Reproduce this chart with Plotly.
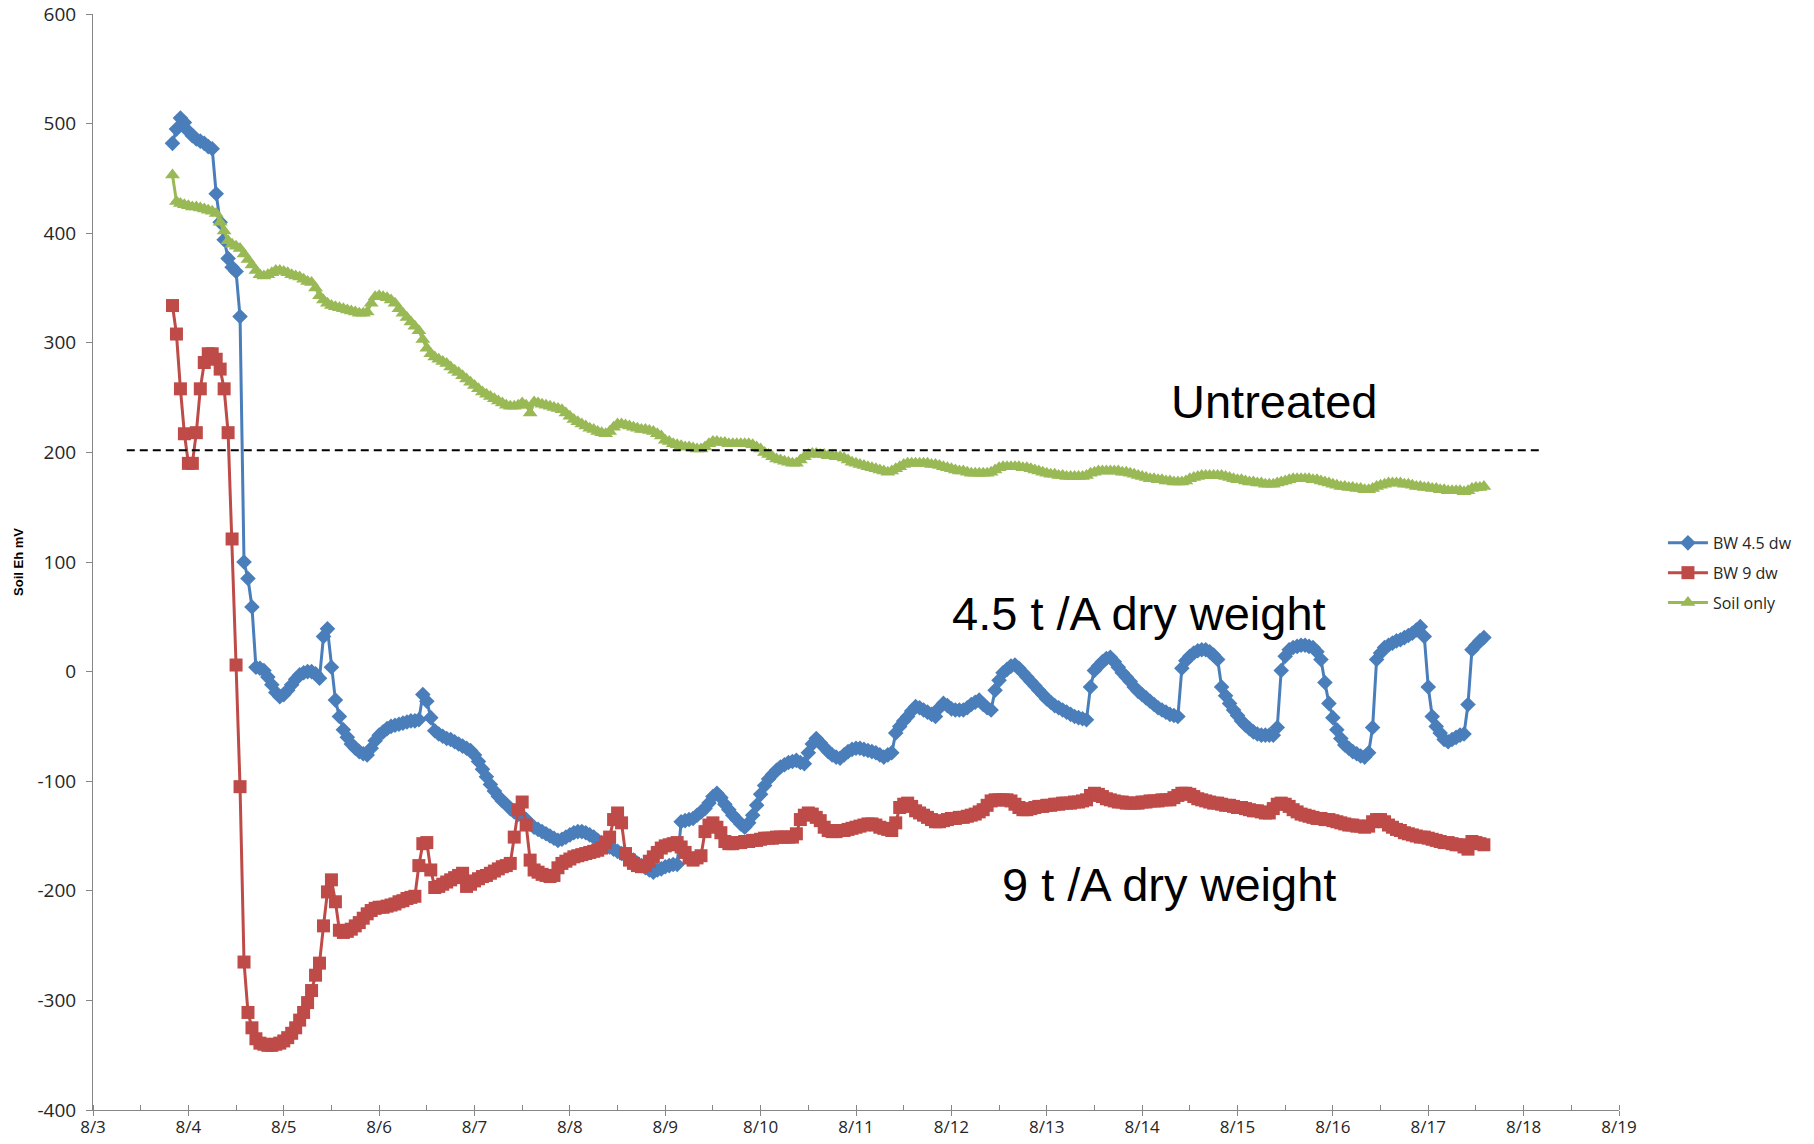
import pandas as pd
import plotly.graph_objects as go

# Soil Eh logger, one reading per hour starting 8/3 20:00
START = "2014-08-03 20:00"

# BW 4.5 dw  (one row per day)
bw45 = [
    482, 495, 505, 501,
    493, 489, 486, 484, 482, 479, 477, 436, 410, 394, 377, 369, 365, 324, 100, 85, 59, 4, 3, 1, -5, -12, -19, -23,
    -21, -17, -12, -7, -3, -1, 0, 0, -2, -6, 32, 39, 4, -26, -41, -53, -60, -66, -70, -73, -75, -76, -70, -63,
    -58, -55, -52, -50, -49, -48, -47, -46, -45, -45, -44, -21, -27, -42, -54, -57, -59, -61, -62, -64, -66, -68, -70, -72,
    -76, -82, -89, -96, -103, -109, -114, -118, -121, -125, -128, -130, -132, -135, -139, -142, -144, -146, -148, -150, -152, -154, -153, -151,
    -149, -147, -146, -146, -147, -149, -151, -154, -156, -158, -160, -162, -164, -166, -168, -170, -172, -175, -177, -179, -181, -183, -181, -180,
    -178, -177, -176, -176, -137, -136, -135, -134, -131, -128, -125, -120, -114, -111, -115, -121, -126, -131, -135, -139, -142, -138, -131, -122,
    -112, -104, -98, -94, -90, -87, -85, -83, -82, -81, -83, -84, -74, -66, -61, -65, -69, -73, -76, -78, -79, -76, -73, -71,
    -70, -70, -71, -72, -73, -74, -76, -78, -76, -74, -56, -50, -45, -41, -36, -32, -33, -35, -37, -39, -41, -33, -29, -31,
    -34, -35, -35, -35, -33, -30, -28, -26, -30, -33, -35, -17, -8, -1, 2, 5, 6, 3, -1, -5, -9, -13, -17, -21,
    -25, -28, -31, -33, -35, -37, -39, -41, -42, -43, -44, -14, 1, 5, 9, 12, 13, 9, 4, -1, -5, -9, -14, -18,
    -21, -24, -27, -30, -33, -35, -37, -39, -40, -41, 3, 10, 14, 17, 19, 20, 20, 18, 15, 11, -14, -22, -29, -35,
    -40, -45, -49, -52, -55, -57, -58, -58, -58, -58, -51, 1, 14, 20, 22, 23, 24, 24, 23, 22, 18, 11, -10, -29,
    -42, -53, -61, -67, -70, -73, -75, -77, -78, -74, -51, 11, 17, 22, 24, 26, 28, 29, 31, 33, 35, 38, 41, 32,
    -14, -41, -50, -56, -62, -64, -62, -60, -58, -57, -30, 20, 24, 28, 31,
]

# BW 9 dw
bw9 = [
    334, 308, 258, 217,
    190, 190, 218, 258, 282, 290, 290, 285, 276, 258, 218, 121, 6, -105, -265, -311, -325, -335, -339, -340, -341, -341, -340, -339,
    -337, -334, -330, -325, -318, -311, -302, -291, -277, -266, -232, -201, -190, -210, -236, -238, -237, -235, -232, -229, -225, -221, -218, -216,
    -215, -215, -214, -213, -212, -210, -209, -207, -206, -205, -177, -157, -156, -181, -197, -196, -194, -192, -190, -188, -186, -184, -196, -194,
    -191, -189, -187, -186, -184, -182, -180, -178, -177, -175, -151, -126, -119, -140, -172, -181, -183, -185, -186, -187, -186, -179, -175, -173,
    -171, -169, -168, -167, -166, -165, -164, -163, -161, -156, -151, -135, -129, -138, -166, -172, -175, -177, -178, -177, -173, -169, -165, -161,
    -159, -158, -157, -156, -160, -165, -170, -172, -170, -168, -146, -140, -138, -142, -147, -155, -157, -157, -156, -156, -155, -155, -154, -154,
    -153, -152, -152, -152, -151, -151, -151, -151, -151, -148, -135, -131, -129, -130, -133, -136, -142, -145, -146, -146, -145, -145, -144, -143,
    -142, -141, -140, -139, -139, -140, -142, -143, -144, -145, -138, -124, -121, -120, -123, -127, -129, -131, -133, -135, -137, -137, -136, -135,
    -134, -134, -133, -133, -132, -131, -130, -128, -126, -122, -118, -117, -117, -117, -117, -118, -121, -124, -126, -126, -125, -124, -123, -123,
    -122, -122, -121, -121, -120, -120, -120, -119, -119, -118, -117, -113, -111, -112, -114, -116, -117, -118, -119, -119, -120, -120, -120, -120,
    -119, -119, -118, -118, -118, -117, -117, -117, -115, -113, -111, -111, -112, -114, -116, -117, -118, -119, -120, -120, -121, -122, -122, -123,
    -124, -124, -125, -126, -127, -127, -128, -129, -129, -125, -121, -120, -121, -123, -126, -128, -130, -131, -132, -133, -134, -134, -135, -135,
    -136, -137, -138, -139, -140, -140, -141, -141, -142, -141, -137, -135, -135, -137, -140, -142, -144, -145, -147, -148, -149, -150, -151, -151,
    -152, -153, -154, -155, -156, -156, -157, -158, -158, -160, -162, -155, -156, -157, -158,
]

# Soil only
soil = [
    453, 429, 427, 426,
    425, 424, 424, 423, 422, 421, 420, 418, 410, 402, 393, 390, 388, 386, 381, 376, 371, 366, 362, 361, 362, 364, 366, 366,
    365, 364, 362, 361, 360, 358, 356, 355, 350, 343, 339, 336, 334, 333, 332, 331, 330, 329, 328, 327, 327, 328, 336, 342,
    343, 342, 341, 339, 336, 331, 327, 323, 319, 315, 311, 303, 295, 290, 287, 285, 283, 281, 278, 275, 273, 270, 267, 264,
    261, 258, 255, 253, 251, 249, 247, 245, 243, 242, 242, 243, 245, 243, 236, 246, 245, 244, 243, 242, 241, 240, 239, 236,
    233, 230, 228, 226, 224, 222, 221, 219, 218, 217, 219, 223, 226, 226, 225, 224, 223, 222, 221, 221, 220, 219, 217, 215,
    211, 210, 208, 207, 206, 205, 205, 204, 203, 203, 205, 208, 210, 210, 209, 209, 208, 208, 208, 208, 208, 208, 207, 205,
    203, 200, 198, 196, 194, 193, 192, 191, 190, 190, 193, 196, 198, 199, 199, 198, 198, 197, 197, 196, 196, 195, 193, 191,
    190, 189, 188, 187, 186, 185, 184, 183, 182, 183, 185, 187, 189, 190, 190, 190, 190, 190, 190, 189, 189, 188, 187, 186,
    185, 184, 183, 183, 182, 181, 181, 181, 181, 181, 182, 184, 186, 187, 187, 187, 187, 187, 186, 186, 185, 184, 183, 182,
    181, 180, 180, 179, 179, 178, 178, 178, 178, 178, 179, 181, 182, 183, 183, 183, 183, 183, 183, 182, 182, 181, 180, 179,
    178, 177, 176, 176, 175, 175, 174, 174, 173, 173, 173, 174, 176, 177, 178, 179, 179, 179, 179, 179, 179, 178, 177, 176,
    175, 175, 174, 173, 173, 172, 172, 171, 171, 171, 172, 173, 174, 175, 176, 176, 176, 176, 176, 175, 175, 174, 173, 172,
    171, 170, 169, 169, 168, 168, 167, 167, 166, 166, 167, 169, 170, 171, 172, 172, 172, 172, 171, 171, 170, 169, 169, 168,
    168, 167, 167, 166, 166, 165, 165, 165, 165, 164, 165, 167, 168, 168, 169,
]

Y_TICKS = [-400, -300, -200, -100, 0, 100, 200, 300, 400, 500, 600]

# untreated reference level (dashed line drawn on the slide)
UNTREATED_MV = 202
UNTREATED_FROM = "2014-08-03 08:30"
UNTREATED_TO = "2014-08-18 04:30"

SERIES = [
    ("BW 4.5 dw", bw45, "#4A7EBB", "diamond", 12),
    ("BW 9 dw", bw9, "#BE4B48", "square", 13),
    ("Soil only", soil, "#98B954", "triangle-up", 13),
]

LABELS = [
    ("Untreated", 0.774, 0.646),
    ("4.5 t /A dry weight", 0.6857, 0.4526),
    ("9 t /A dry weight", 0.7051, 0.2062),
]

fig = go.Figure()

for name, vals, color, symbol, size in SERIES:
    times = pd.date_range(START, periods=len(vals), freq="h")
    fig.add_trace(go.Scatter(
        x=times, y=vals, name=name, mode="lines+markers",
        line=dict(color=color, width=3),
        marker=dict(symbol=symbol, size=size, color=color, line=dict(width=0)),
        legendgroup=name,
    ))

fig.add_shape(
    type="line", xref="x", yref="y",
    x0=UNTREATED_FROM, x1=UNTREATED_TO, y0=UNTREATED_MV, y1=UNTREATED_MV,
    line=dict(color="black", width=2, dash="8px,5px"),
)

for text, px, py in LABELS:
    fig.add_annotation(
        xref="paper", yref="paper", x=px, y=py, text=text, showarrow=False,
        font=dict(family="Liberation Sans, Arial", size=47, color="black"),
        xanchor="center", yanchor="middle",
    )

axis_col = "#868686"
tick_font = dict(family="Open Sans, Liberation Sans", size=19, color="#262626")
xtick_font = dict(family="Open Sans, Liberation Sans", size=17, color="#262626")

fig.update_layout(
    width=1814, height=1144,
    paper_bgcolor="white", plot_bgcolor="white",
    margin=dict(l=93, r=195, t=14, b=34, autoexpand=False),
    showlegend=True,
    legend=dict(
        x=1.0288, y=0.49, xanchor="left", yanchor="middle",
        font=dict(family="Open Sans, Liberation Sans", size=16, color="#262626"),
        itemwidth=40, traceorder="grouped", tracegroupgap=6,
        bgcolor="rgba(0,0,0,0)",
    ),
)

fig.update_xaxes(
    type="date", range=["2014-08-03", "2014-08-19"],
    tick0="2014-08-03", dtick=86400000, tickformat="%-m/%-d",
    ticks="outside", ticklen=5, tickcolor=axis_col, ticklabelstandoff=-3,
    minor=dict(dtick=43200000, ticks="inside", ticklen=5, tickcolor=axis_col),
    showline=True, linecolor=axis_col, linewidth=1, automargin=False,
    showgrid=False, zeroline=False, tickfont=xtick_font,
)
fig.update_yaxes(
    range=[-400, 600], tickmode="array",
    tickvals=Y_TICKS, ticktext=[str(v) for v in Y_TICKS],
    ticks="outside", ticklen=6, tickcolor=axis_col, ticklabelstandoff=6,
    showline=True, linecolor=axis_col, linewidth=1, automargin=False,
    showgrid=False, zeroline=False, tickfont=tick_font,
    title=dict(text="<b>Soil Eh mV</b>", standoff=10,
               font=dict(family="Liberation Sans, Arial", size=13, color="black")),
)

fig.write_html("out.html", config={"displayModeBar": False},
               post_script="document.body.style.margin='0';")
